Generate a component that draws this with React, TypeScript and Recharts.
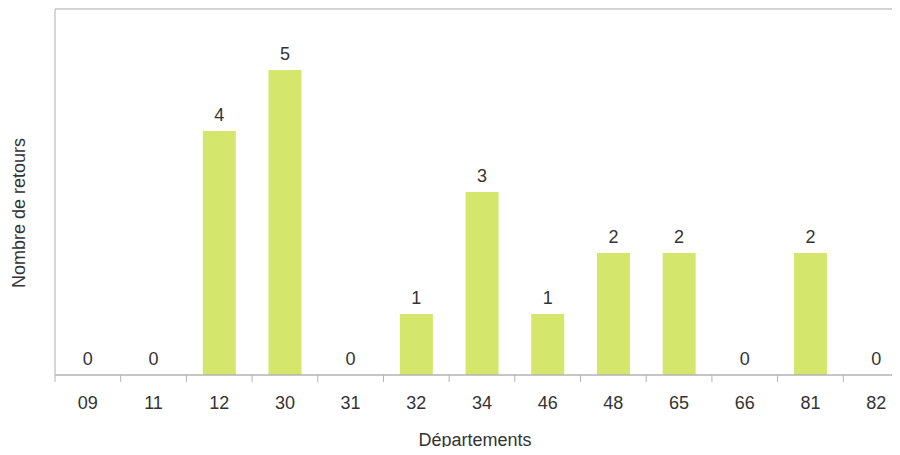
import { ComposedChart, Bar, Line, XAxis, YAxis, ReferenceLine, LabelList } from 'recharts';

// Departments and number of returns
const departements = ['09', '11', '12', '30', '31', '32', '34', '46', '48', '65', '66', '81', '82'];
const retours = [0, 0, 4, 5, 0, 1, 3, 1, 2, 2, 0, 2, 0];
const yDomain = [0, 6];

const data = departements.map((d, i) => ({ name: d, value: retours[i] }));

const FONT = '"Liberation Sans", Arial, sans-serif';
const TEXT = '#333333';

// tick mark sits on the category boundary, label in the middle
const DeptTick = (props: any) => {
  const { x, y, payload } = props;
  const half = payload?.offset ?? 32.85;
  return (
    <g>
      <line x1={x - half} y1={y - 7} x2={x - half} y2={y} stroke="#b3b3b3" strokeWidth={1} />
      <text x={x} y={y + 27} textAnchor="middle" fontSize={18} fontFamily={FONT} fill={TEXT}>
        {payload.value}
      </text>
    </g>
  );
};

const YTitle = (props: any) => {
  const vb = props.viewBox || { x: 0, y: 9, width: 55, height: 366 };
  const cx = vb.x + 19;
  const cy = vb.y + vb.height / 2 + 21;
  return (
    <text
      x={cx}
      y={cy}
      transform={`rotate(-90 ${cx} ${cy})`}
      textAnchor="middle"
      dominantBaseline="central"
      fontSize={18}
      fontFamily={FONT}
      fill={TEXT}
    >
      Nombre de retours
    </text>
  );
};

const XTitle = (props: any) => {
  const vb = props.viewBox || { x: 55, y: 375, width: 854, height: 80 };
  return (
    <text x={475} y={vb.y + 71} textAnchor="middle" fontSize={18} fontFamily={FONT} fill={TEXT}>
      Départements
    </text>
  );
};

export default function App() {
  return (
    <div style={{ margin: -8, width: 900, height: 455, overflow: 'hidden', background: '#fff' }}>
      <ComposedChart
        width={910}
        height={455}
        data={data}
        margin={{ top: 9, right: 1, left: 0, bottom: 0 }}
        barCategoryGap="25%"
      >
        <XAxis
          dataKey="name"
          height={80}
          tickLine={false}
          tickSize={7}
          tickMargin={0}
          axisLine={{ stroke: '#b3b3b3', strokeWidth: 1.5 }}
          tick={<DeptTick />}
          interval={0}
          label={<XTitle />}
        />
        <YAxis
          width={55}
          domain={yDomain}
          tick={false}
          tickLine={false}
          axisLine={{ stroke: '#c8c8c8', strokeWidth: 1.5 }}
          label={<YTitle />}
        />
        <ReferenceLine y={6} stroke="#d3d3d3" strokeWidth={2} />
        <Bar dataKey="value" fill="#d4e66c" isAnimationActive={false} />
        {/* invisible line only carries the value labels, so zeros get one too */}
        <Line dataKey="value" stroke="none" dot={false} activeDot={false} isAnimationActive={false} legendType="none">
          <LabelList dataKey="value" position="top" offset={10} fontSize={18} fontFamily={FONT} fill={TEXT} />
        </Line>
      </ComposedChart>
    </div>
  );
}
